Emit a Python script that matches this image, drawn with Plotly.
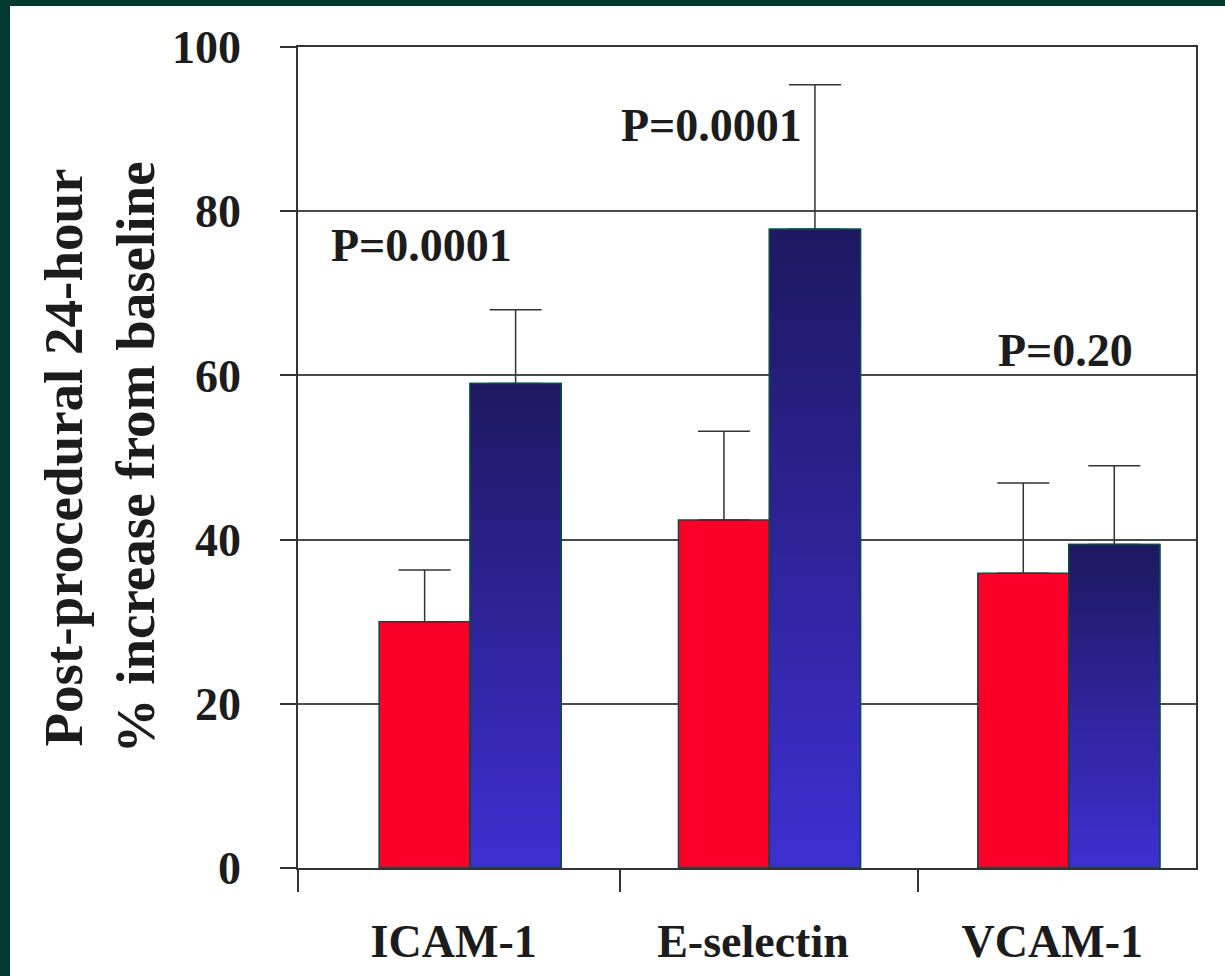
import plotly.graph_objects as go

# ---------------- data ----------------
categories = ["ICAM-1", "E-selectin", "VCAM-1"]
red_values = [30.0, 42.4, 35.9]
red_err_up = [6.3, 10.8, 11.0]
blue_values = [59.0, 77.8, 39.4]
blue_err_up = [9.0, 17.6, 9.6]
p_labels = ["P=0.0001", "P=0.0001", "P=0.20"]
y_ticks = [0, 20, 40, 60, 80, 100]

# ---------------- layout geometry ----------------
W, H = 1225, 976
ML, MR, MT, MB = 298, 29, 47, 108
PW, PH = W - ML - MR, H - MT - MB
X_RANGE = [-0.52, 2.48]
BAR_W = 0.304
RED_OFF = -0.249
BLUE_OFF = 0.055

FONT = "Liberation Serif"
TXT = "#1c1c1c"
LINE = "#333333"
GRID = "#4a4a4a"
RED = "#fa0028"
EDGE = "#0b4a40"
BLUE_BOTTOM = "#3e2fd2"
BLUE_TOP = "#1d1860"
BORDER = "#033a30"

xpos = list(range(len(categories)))

fig = go.Figure()

fig.add_trace(go.Bar(
    x=xpos, y=red_values, width=BAR_W, offset=RED_OFF,
    marker=dict(color=RED, line=dict(color=EDGE, width=1.5)),
    error_y=dict(type="data", symmetric=False, array=red_err_up,
                 arrayminus=[0] * len(red_err_up),
                 color=LINE, thickness=1.5, width=26),
    showlegend=False, name="red",
))
fig.add_trace(go.Bar(
    x=xpos, y=blue_values, width=BAR_W, offset=BLUE_OFF,
    marker=dict(color=BLUE_BOTTOM, line=dict(color=EDGE, width=1.5)),
    error_y=dict(type="data", symmetric=False, array=blue_err_up,
                 arrayminus=[0] * len(blue_err_up),
                 color=LINE, thickness=1.5, width=26),
    showlegend=False, name="blue",
))

# vertical gradient overlay for the blue bars (same data, same axes)
for xi, v in zip(xpos, blue_values):
    x0, x1 = xi + BLUE_OFF, xi + BLUE_OFF + BAR_W
    fig.add_trace(go.Scatter(
        x=[x0, x0, x1, x1, x0], y=[0, v, v, 0, 0],
        mode="lines", fill="toself",
        fillgradient=dict(type="vertical",
                          colorscale=[[0, BLUE_BOTTOM], [1, BLUE_TOP]]),
        line=dict(color=EDGE, width=1.5),
        hoverinfo="skip", showlegend=False,
    ))

# P-value annotations
p_pos = [(-0.106, 75.8), (0.86, 90.4), (2.043, 63.0)]
for (px, py), lab in zip(p_pos, p_labels):
    fig.add_annotation(x=px, y=py, text=lab, showarrow=False,
                       font=dict(family=FONT, size=46, color=TXT, weight="bold"),
                       xanchor="center", yanchor="middle")

# dark frame strips (left and top edges of the slide)
def px_to_paper_x(p):
    return (p - ML) / PW

def px_to_paper_y(p):
    return (H - MB - p) / PH

fig.add_shape(type="rect", xref="paper", yref="paper",
              x0=px_to_paper_x(0), x1=px_to_paper_x(10),
              y0=px_to_paper_y(H), y1=px_to_paper_y(0),
              fillcolor=BORDER, line=dict(width=0), layer="above")
fig.add_shape(type="rect", xref="paper", yref="paper",
              x0=px_to_paper_x(0), x1=px_to_paper_x(W),
              y0=px_to_paper_y(6), y1=px_to_paper_y(0),
              fillcolor=BORDER, line=dict(width=0), layer="above")

fig.update_layout(
    width=W, height=H,
    margin=dict(l=ML, r=MR, t=MT, b=MB, autoexpand=False),
    paper_bgcolor="white", plot_bgcolor="white",
    barmode="overlay",
    font=dict(family=FONT, color=TXT),
    showlegend=False,
)

fig.update_yaxes(
    range=[0, 100], tickvals=y_ticks, ticktext=[str(t) for t in y_ticks],
    showgrid=True, gridcolor=GRID, gridwidth=1.5,
    ticks="outside", ticklen=16, tickwidth=1.5, tickcolor=LINE,
    ticklabelstandoff=30,
    showline=True, linecolor=LINE, linewidth=1.5, mirror=True,
    zeroline=False,
    tickfont=dict(family=FONT, size=46, color=TXT, weight="bold"),
    title=dict(text="Post-procedural 24-hour<br>% increase from baseline",
               font=dict(family=FONT, size=55, color=TXT, weight="bold"),
               standoff=0),
)

fig.update_xaxes(
    range=X_RANGE, tickvals=xpos, ticktext=categories,
    ticks="", showgrid=False, zeroline=False,
    showline=True, linecolor=LINE, linewidth=1.5, mirror=True,
    ticklabelstandoff=32,
    tickfont=dict(family=FONT, size=46, color=TXT, weight="bold"),
    minor=dict(tickmode="array", tickvals=[-0.52, 0.556, 1.55],
               ticks="outside", ticklen=22, tickwidth=1.5, tickcolor=LINE,
               showgrid=False),
)

fig.write_html("out.html", config={"displayModeBar": False},
               post_script="document.body.style.margin='0px';")
